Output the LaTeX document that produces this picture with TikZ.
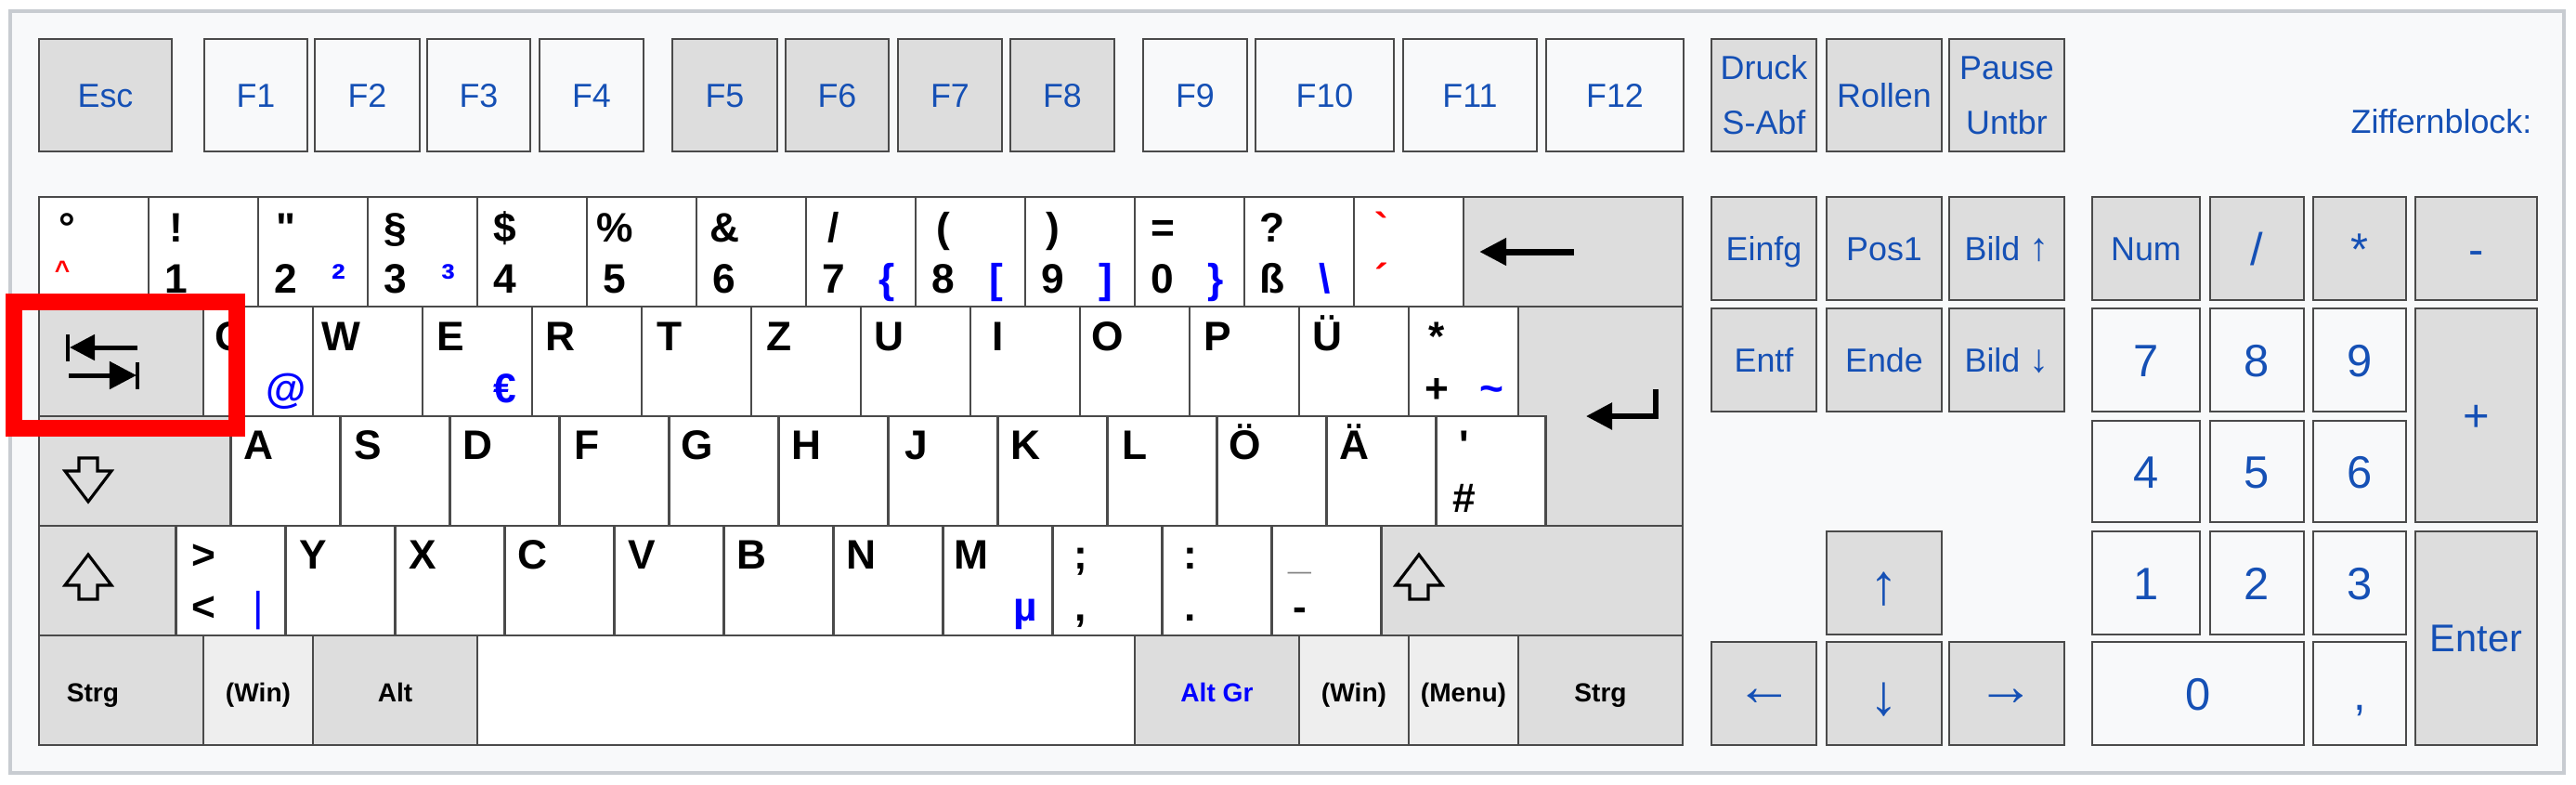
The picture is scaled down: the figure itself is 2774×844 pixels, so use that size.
\documentclass[tikz,border=0pt]{standalone}
\usepackage{fontspec}
\newfontfamily\keyfont{Liberation Sans}
\usepackage{tikz}
\usetikzlibrary{arrows.meta}
\usepackage{xcolor}

\definecolor{framebg}{HTML}{F8F9FA}
\definecolor{frameline}{HTML}{C8CCD1}
\definecolor{keyline}{HTML}{4A4A4A}
\definecolor{modgray}{HTML}{DDDDDD}
\definecolor{wingray}{HTML}{EEEEEE}
\definecolor{keylight}{HTML}{F8F9FA}
\definecolor{labelblue}{HTML}{1550B5}
\definecolor{altgrblue}{HTML}{0000FF}
\definecolor{deadred}{HTML}{FF0000}

\tikzset{
  keycap/.style={draw=keyline, line width=0.7pt},
  charkey/.style={keycap, fill=white},
  modkey/.style={keycap, fill=modgray},
  winkey/.style={keycap, fill=wingray},
  litekey/.style={keycap, fill=keylight},
  glyph/.style={inner sep=0pt, anchor=base,
    font=\keyfont\bfseries\fontsize{12.6}{14}\selectfont},
  altgr/.style={glyph, text=altgrblue},
  dead/.style={glyph, text=deadred},
  fnlabel/.style={inner sep=0pt, text=labelblue, text height=7.3pt, text depth=0pt,
    font=\keyfont\fontsize{10.2}{12}\selectfont},
  twoline/.style={inner sep=0pt, text=labelblue, align=center,
    font=\keyfont\fontsize{10.2}{16.8}\selectfont},
  padlabel/.style={fnlabel, text height=10pt,
    font=\keyfont\fontsize{13.9}{16}\selectfont},
  navarrow/.style={inner sep=0pt, text=labelblue,
    font=\keyfont\fontsize{17.5}{20}\selectfont},
  modlabel/.style={inner sep=0pt, anchor=base,
    font=\keyfont\bfseries\fontsize{8}{10}\selectfont},
  hollow/.style={draw=black, line width=0.9pt},
}

\begin{document}
\begin{tikzpicture}[x=0.01cm, y=-0.01cm]
    \useasboundingbox (0,0) rectangle (2774,844);

    % Outer frame
    \draw[draw=frameline, fill=framebg, line width=0.9pt] (11,12) rectangle (2761,832);

    % Function key row
    \draw[modkey] (42,42) rectangle (185,163);
    \node[fnlabel] (esc) at (113.5,102.5) {Esc};
    \foreach \a/\b/\t/\s in {220/331/F1/litekey, 339/452/F2/litekey, 460/571/F3/litekey,
        581/693/F4/litekey, 724/837/F5/modkey, 846/957/F6/modkey, 967/1079/F7/modkey,
        1088/1200/F8/modkey, 1231/1343/F9/litekey, 1352/1501/F10/litekey,
        1511/1655/F11/litekey, 1665/1813/F12/litekey}{
        \draw[\s] (\a,42) rectangle (\b,163);
        \node[fnlabel] (\t) at ({(\a+\b)/2},102.5) {\t};
    }
    \draw[modkey] (1843,42) rectangle (1956,163);
    \draw[modkey] (1967,42) rectangle (2091,163);
    \draw[modkey] (2099,42) rectangle (2223,163);
    \node[twoline] (druck) at (1899.5,102.5) {Druck\\S-Abf};
    \node[fnlabel] (rollen) at (2029,102.5) {Rollen};
    \node[twoline] (pause) at (2161,102.5) {Pause\\Untbr};
    \node[fnlabel, anchor=base east] (zifflabel) at (2727,143) {Ziffernblock:};

    % Number row
    \foreach \k in {0,...,12}
        \draw[charkey] ({42+118*\k},212) rectangle ++(118,118);
    \draw[modkey] (1576,212) rectangle (1812,330);
    \foreach \c/\k in {°/0, !/1, "/2, §/3, \$/4, \%/5, \&/6, {/}/7, =/10, ?/11}
        \node[glyph] (up\k) at ({72+118*\k},260) {\c};
    \node[glyph] (up8) at (1016,260) {(};
    \node[glyph] (up9) at (1134,260) {)};
    \foreach \c [count=\k from 1] in {1,2,3,4,5,6,7,8,9,0,ß}
        \node[glyph] (lo\k) at ({72+118*\k},315) {\c};
    \foreach \c/\k in {²/2,³/3,\{/7,[/8,]/9,\}/10,\textbackslash/11}
        \node[altgr] (ag\k) at ({129+118*\k},315) {\c};
    \node[dead, font=\keyfont\bfseries\fontsize{8}{10}\selectfont] (circ) at (67,300) {\textasciicircum};
    \node[dead] (grave) at (1488,260) {`};
    \node[dead] (acute) at (1488,315) {´};
    \draw[line width=0.07cm, -{Triangle[length=0.29cm, width=0.28cm]}] (1695,271) -- (1593,271);

    % QWERTZ row
    \draw[modkey] (42,330) rectangle (219,448);
    \foreach \k in {0,...,11}
        \draw[charkey] ({219+118*\k},330) rectangle ++(118,118);
    \foreach \c [count=\k from 0] in {Q,W,E,R,T,Z,U,I,O,P,Ü}
        \node[glyph] (q\k) at ({249+118*\k},377) {\c};
    \node[altgr] (at) at (308,433) {@};
    \node[altgr] (euro) at (544,433) {€};
    \node[glyph] (star) at (1547,377) {*};
    \node[glyph] (plus) at (1547,433) {+};
    \node[altgr] (tilde) at (1606,433) {\textasciitilde};
    % tab symbol
    \draw[line width=0.05cm, -{Triangle[length=0.27cm, width=0.27cm]}] (148,374) -- (75,374);
    \draw[line width=0.045cm] (73,360) -- (73,389);
    \draw[line width=0.05cm, -{Triangle[length=0.29cm, width=0.29cm]}] (74,404) -- (147,404);
    \draw[line width=0.045cm] (148,390) -- (148,419);

    % Enter key
    \draw[modkey] (1635,330) -- (1812,330) -- (1812,566) -- (1664.5,566)
        -- (1664.5,448) -- (1635,448) -- cycle;
    \draw[line width=0.055cm, -{Triangle[length=0.28cm, width=0.28cm]}]
        (1783,419) -- (1783,448) -- (1708,448);

    % ASDF row
    \draw[modkey] (42,448) rectangle (248.5,566);
    \foreach \k in {0,...,11}
        \draw[charkey] ({248.5+118*\k},448) rectangle ++(118,118);
    \foreach \c [count=\k from 0] in {A,S,D,F,G,H,J,K,L,Ö,Ä}
        \node[glyph] (a\k) at ({278.5+118*\k},494) {\c};
    \node[glyph] (quote) at (1576.5,494) {'};
    \node[glyph] (hash) at (1576.5,551) {\#};
    \draw[hollow] (85,493) -- (105,493) -- (105,507) -- (120,507) -- (95,540)
        -- (70,507) -- (85,507) -- cycle;

    % YXCV row
    \draw[modkey] (42,566) rectangle (189.5,684);
    \foreach \k in {0,...,10}
        \draw[charkey] ({189.5+118*\k},566) rectangle ++(118,118);
    \draw[modkey] (1487.5,566) rectangle (1812,684);
    \foreach \c [count=\k from 1] in {Y,X,C,V,B,N,M}
        \node[glyph] (y\k) at ({219.5+118*\k},612) {\c};
    \node[glyph] (gt) at (219.5,612) {>};
    \node[glyph] (lt) at (219.5,668) {<};
    \node[altgr, font=\keyfont\fontsize{12.6}{14}\selectfont] (bar) at (278.5,668) {|};
    \node[altgr] (micro) at (1104.5,668) {µ};
    \node[glyph] (semi) at (1163.5,612) {;};
    \node[glyph] (comma) at (1163.5,668) {,};
    \node[glyph] (colon) at (1281.5,612) {:};
    \node[glyph] (dot) at (1281.5,668) {.};
    \node[glyph, text=gray] (under) at (1399.5,612) {\_};
    \node[glyph] (minus) at (1399.5,668) {-};
    \draw[hollow] (95,597) -- (120,630) -- (105,630) -- (105,645) -- (85,645)
        -- (85,630) -- (70,630) -- cycle;
    \draw[hollow] (1528,597) -- (1553,630) -- (1538,630) -- (1538,645) -- (1518,645)
        -- (1518,630) -- (1503,630) -- cycle;

    % Bottom row
    \foreach \a/\b/\s in {42/219/modkey, 219/337/winkey, 337/514/modkey, 514/1222/charkey,
        1222/1399/modkey, 1399/1517/winkey, 1517/1635/winkey, 1635/1812/modkey}
        \draw[\s] (\a,684) rectangle (\b,802);
    \node[modlabel] (strgl) at (100,755) {Strg};
    \node[modlabel] (winl) at (278,755) {(Win)};
    \node[modlabel] (alt) at (425.5,755) {Alt};
    \node[modlabel, text=altgrblue] (altgrkey) at (1310.5,755) {Alt Gr};
    \node[modlabel] (winr) at (1458,755) {(Win)};
    \node[modlabel] (menu) at (1576,755) {(Menu)};
    \node[modlabel] (strgr) at (1723.5,755) {Strg};

    % Navigation block
    \foreach \a/\b in {1843/1956, 1967/2091, 2099/2223}{
        \draw[modkey] (\a,212) rectangle (\b,323);
        \draw[modkey] (\a,332) rectangle (\b,443);
        \draw[modkey] (\a,691) rectangle (\b,802);
    }
    \draw[modkey] (1967,572) rectangle (2091,683);
    \node[fnlabel] (einfg) at (1899.5,267.5) {Einfg};
    \node[fnlabel] (pos) at (2029,267.5) {Pos1};
    \node[fnlabel] (bildup) at (2161,267.5) {Bild {\fontsize{12}{14}\selectfont↑}};
    \node[fnlabel] (entf) at (1899.5,387.5) {Entf};
    \node[fnlabel] (ende) at (2029,387.5) {Ende};
    \node[fnlabel] (bilddown) at (2161,387.5) {Bild {\fontsize{12}{14}\selectfont↓}};
    \node[navarrow] (up) at (2029,634) {↑};
    \node[navarrow] (left) at (1900,751) {←};
    \node[navarrow] (down) at (2029,753) {↓};
    \node[navarrow] (right) at (2160,751) {→};

    % Numeric keypad
    \foreach \a/\b in {2253/2369, 2380/2481, 2491/2591}{
        \draw[modkey] (\a,212) rectangle (\b,323);
        \draw[litekey] (\a,332) rectangle (\b,443);
        \draw[litekey] (\a,453) rectangle (\b,562);
        \draw[litekey] (\a,572) rectangle (\b,683);
    }
    \draw[modkey] (2601,212) rectangle (2732,323);
    \draw[modkey] (2601,332) rectangle (2732,562);
    \draw[modkey] (2601,572) rectangle (2732,802);
    \draw[litekey] (2253,691) rectangle (2481,802);
    \draw[litekey] (2491,691) rectangle (2591,802);
    \node[fnlabel] (numlock) at (2311,267.5) {Num};
    \node[padlabel] (div) at (2430.5,267.5) {/};
    \node[padlabel] (mul) at (2541,267.5) {*};
    \node[padlabel] (sub) at (2666.5,267.5) {-};
    \node[padlabel] (add) at (2666.5,447) {+};
    \node[fnlabel, font=\keyfont\fontsize{11.8}{14}\selectfont, text height=8.4pt] (enter) at (2666.5,687) {Enter};
    \foreach \c/\r in {7/387.5, 4/507.5, 1/627.5}
        \node[padlabel] (p\c) at (2311,\r) {\c};
    \foreach \c/\r in {8/387.5, 5/507.5, 2/627.5}
        \node[padlabel] (p\c) at (2430.5,\r) {\c};
    \foreach \c/\r in {9/387.5, 6/507.5, 3/627.5}
        \node[padlabel] (p\c) at (2541,\r) {\c};
    \node[padlabel] (p0) at (2367,746.5) {0};
    \node[padlabel] (pdec) at (2541,746.5) {,};

    % Highlight around the tab key
    \draw[deadred, line width=0.18cm] (15,325) rectangle (255,461);
\end{tikzpicture}
\end{document}
